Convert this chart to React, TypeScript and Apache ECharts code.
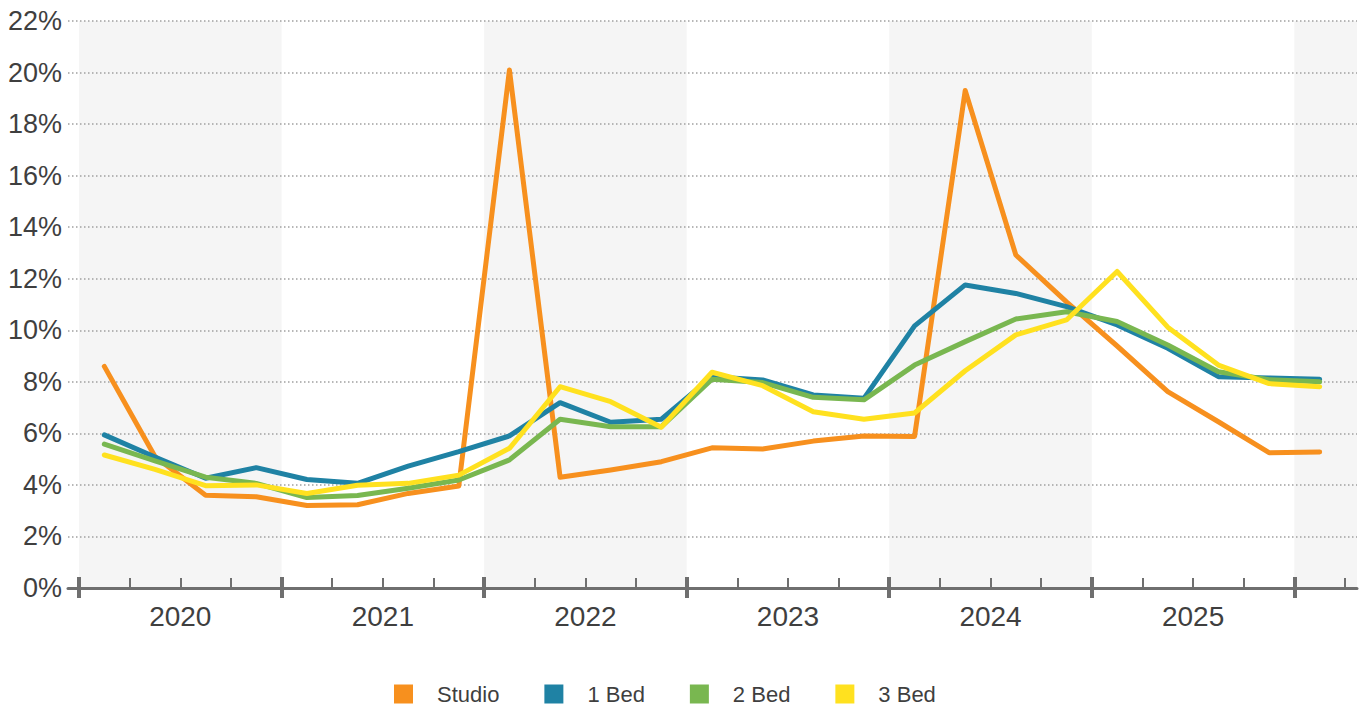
import React, { useEffect, useRef } from 'react';
import * as echarts from 'echarts';

const quarters = [
  '2020 Q1', '2020 Q2', '2020 Q3', '2020 Q4',
  '2021 Q1', '2021 Q2', '2021 Q3', '2021 Q4',
  '2022 Q1', '2022 Q2', '2022 Q3', '2022 Q4',
  '2023 Q1', '2023 Q2', '2023 Q3', '2023 Q4',
  '2024 Q1', '2024 Q2', '2024 Q3', '2024 Q4',
  '2025 Q1', '2025 Q2', '2025 Q3', '2025 Q4',
  '2026 Q1',
];
const years = ['2020', '2021', '2022', '2023', '2024', '2025'];

const studio = [8.6, 5.1, 3.6, 3.54, 3.2, 3.23, 3.67, 3.96, 20.1, 4.3, 4.58, 4.9, 5.44, 5.39, 5.7, 5.9, 5.88, 19.3, 12.92, 11.1, 9.39, 7.62, 6.45, 5.25, 5.28];
const oneBed = [5.94, 5.08, 4.26, 4.67, 4.21, 4.06, 4.73, 5.29, 5.9, 7.19, 6.43, 6.55, 8.2, 8.07, 7.49, 7.36, 10.17, 11.76, 11.43, 10.92, 10.21, 9.3, 8.2, 8.15, 8.1];
const twoBed = [5.58, 4.93, 4.3, 4.06, 3.51, 3.59, 3.87, 4.19, 4.97, 6.55, 6.26, 6.26, 8.1, 7.97, 7.4, 7.3, 8.65, 9.56, 10.44, 10.72, 10.34, 9.43, 8.39, 8.08, 8.0];
const threeBed = [5.16, 4.6, 3.97, 4.0, 3.67, 3.99, 4.06, 4.38, 5.42, 7.81, 7.23, 6.24, 8.37, 7.85, 6.84, 6.55, 6.79, 8.43, 9.82, 10.4, 12.28, 10.12, 8.65, 7.93, 7.81];

const seriesNames = ['Studio', '1 Bed', '2 Bed', '3 Bed'];
const seriesColors = ['#F7901E', '#1F82A4', '#79B750', '#FFE11F'];
const seriesValues = [studio, oneBed, twoBed, threeBed];

const W = 1361;
const H = 709;
const FONT = '"Liberation Sans", Arial, Helvetica, sans-serif';
const AXIS_GRAY = '#6f6f6f';
const TEXT = '#3f3f3f';

export default function App() {
  const ref = useRef<HTMLDivElement>(null);

  useEffect(() => {
    if (!ref.current) return;
    const chart = echarts.init(ref.current, null, { renderer: 'svg' });

    // layout
    const plotLeft = 79; // first quarter boundary
    const plotRight = 1345; // last quarter boundary
    const outerLeft = 68;
    const outerRight = 1357;
    const top = 21;
    const bottom = H - 588;
    const n = quarters.length;
    const k = (plotRight - plotLeft) / n;
    const xMin = -(plotLeft - outerLeft) / k;
    const xMax = n + (outerRight - plotRight) / k;

    const bands: any[] = [];
    for (let i = 0; i <= years.length; i += 2) {
      const a = i * 4;
      const b = Math.min(a + 4, xMax);
      if (a < xMax) bands.push([{ xAxis: a }, { xAxis: b }]);
    }

    const option: any = {
      animation: false,
      backgroundColor: '#ffffff',
      textStyle: { fontFamily: FONT },
      grid: [
        { left: outerLeft, right: W - outerRight, top, bottom },
        { left: plotLeft, right: W - plotRight, top, bottom },
        { left: plotLeft, right: W - plotLeft - 24 * k, top, bottom },
      ],
      xAxis: [
        {
          gridIndex: 0,
          type: 'value',
          min: xMin,
          max: xMax,
          position: 'bottom',
          z: 4,
          axisLine: { show: true, lineStyle: { color: AXIS_GRAY, width: 3 } },
          axisTick: { show: false },
          axisLabel: { show: false },
          splitLine: { show: false },
        },
        {
          gridIndex: 1,
          type: 'category',
          data: quarters,
          boundaryGap: true,
          position: 'bottom',
          z: 4,
          axisLine: { show: false },
          axisTick: { show: true, inside: true, interval: 0, length: 10, lineStyle: { color: AXIS_GRAY, width: 2 } },
          axisLabel: { show: false },
          splitLine: { show: false },
        },
        {
          gridIndex: 2,
          type: 'category',
          data: years,
          boundaryGap: true,
          position: 'bottom',
          z: 4,
          axisLine: { show: false },
          axisTick: { show: true, inside: false, interval: 0, length: 10, lineStyle: { color: AXIS_GRAY, width: 4 } },
          axisLabel: { show: true, interval: 0, fontSize: 28, color: TEXT, margin: 14, fontFamily: FONT },
          splitLine: { show: false },
        },
        {
          gridIndex: 2,
          type: 'category',
          data: years,
          boundaryGap: true,
          position: 'bottom',
          z: 4,
          axisLine: { show: false },
          axisTick: { show: true, inside: true, interval: 0, length: 11, lineStyle: { color: AXIS_GRAY, width: 4 } },
          axisLabel: { show: false },
          splitLine: { show: false },
        },
      ],
      yAxis: [
        {
          gridIndex: 0,
          type: 'value',
          min: 0,
          max: 22,
          interval: 2,
          z: 4,
          axisLine: { show: false },
          axisTick: { show: false },
          axisLabel: { formatter: '{value}%', fontSize: 27, color: TEXT, margin: 6, fontFamily: FONT },
          splitLine: { show: true, lineStyle: { color: '#a0a0a0', width: 1.5, type: [1.5, 2.5] } },
        },
        { gridIndex: 1, type: 'value', min: 0, max: 22, show: false, splitLine: { show: false } },
        { gridIndex: 2, type: 'value', min: 0, max: 1, show: false, splitLine: { show: false } },
      ],
      legend: {
        data: seriesNames,
        left: 394,
        top: 683,
        padding: 0,
        icon: 'rect',
        itemWidth: 19,
        itemHeight: 19,
        itemGap: 45,
        textStyle: { fontSize: 22, color: TEXT, fontFamily: FONT, padding: [0, 0, 0, 19] },
      },
      series: [
        {
          name: 'bands',
          type: 'line',
          xAxisIndex: 0,
          yAxisIndex: 0,
          data: [],
          silent: true,
          markArea: {
            silent: true,
            itemStyle: { color: '#f5f5f5' },
            data: bands,
          },
        },
        ...seriesNames.map((name, i) => ({
          name,
          type: 'line',
          xAxisIndex: 1,
          yAxisIndex: 1,
          z: 6,
          data: seriesValues[i],
          symbol: 'none',
          showSymbol: false,
          color: seriesColors[i],
          lineStyle: { color: seriesColors[i], width: 5, cap: 'round', join: 'round' },
        })),
      ],
    };

    chart.setOption(option);
    return () => chart.dispose();
  }, []);

  return <div ref={ref} style={{ position: 'fixed', left: 0, top: 0, width: W, height: H }} />;
}
